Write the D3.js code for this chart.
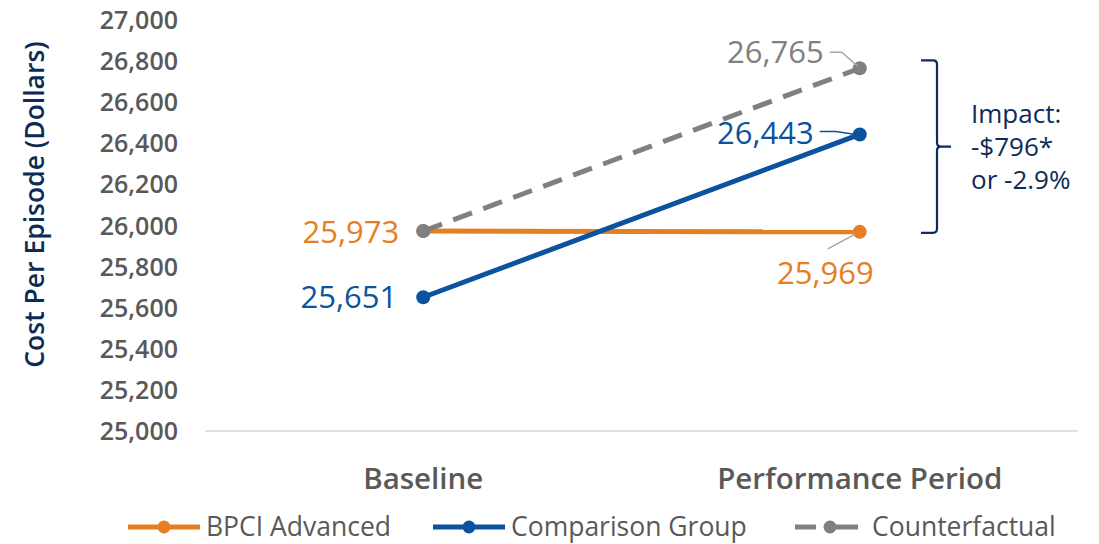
<!DOCTYPE html>
<html>
<head>
<meta charset="utf-8">
<script src="https://cdn.jsdelivr.net/npm/d3@7"></script>
<style>
  html, body { margin: 0; padding: 0; background: #fff; }
  svg { display: block; font-family: "Open Sans", "Noto Sans", sans-serif; }
</style>
</head>
<body>
<svg id="chart" width="1099" height="544"></svg>
<script>
// Episode cost data: baseline vs performance period
const categories = ["Baseline", "Performance Period"];
const bpciAdvanced = [25973, 25969];
const comparisonGroup = [25651, 26443];
const counterfactual = [25973, 26765];
const yTickValues = [25000, 25200, 25400, 25600, 25800, 26000, 26200, 26400, 26600, 26800, 27000];
const seriesNames = ["BPCI Advanced", "Comparison Group", "Counterfactual"];
const impactLines = ["Impact:", "-$796*", "or -2.9%"];

const ORANGE = "#E67E22", BLUE = "#0B539F", GRAY = "#808080", NAVY = "#0C2B57", TEXT = "#595959";

const svg = d3.select("#chart");
const x = d3.scalePoint().domain(categories).range([205, 1078]).padding(0.5);
const y = d3.scaleLinear().domain([25000, 27000]).range([431, 20]);

// y-axis tick labels
const fmt = d3.format(",");
svg.append("g").selectAll("text").data(yTickValues).join("text")
  .attr("x", 178).attr("y", d => y(d)).attr("dy", "0.36em")
  .attr("text-anchor", "end").attr("font-size", 25).attr("font-weight", 600)
  .attr("fill", TEXT).text(d => fmt(d));

// y-axis title
svg.append("text")
  .attr("transform", `translate(44,${(y(25000) + y(27000)) / 2 - 21}) rotate(-90)`)
  .attr("text-anchor", "middle").attr("font-size", 26.5).attr("font-weight", 600)
  .attr("fill", NAVY).text("Cost Per Episode (Dollars)");

// baseline axis line
svg.append("line").attr("x1", 205).attr("x2", 1078)
  .attr("y1", y(25000)).attr("y2", y(25000))
  .attr("stroke", "#d9d9d9").attr("stroke-width", 1.5);

// category labels
svg.append("g").selectAll("text").data(categories).join("text")
  .attr("x", d => x(d)).attr("y", 489).attr("text-anchor", "middle")
  .attr("font-size", 29.5).attr("font-weight", 600).attr("fill", TEXT).text(d => d);

const line = d3.line().x((d, i) => x(categories[i])).y(d => y(d));

function drawSeries(values, color, dash) {
  svg.append("path").datum(values).attr("d", line)
    .attr("fill", "none").attr("stroke", color).attr("stroke-width", 5)
    .attr("stroke-dasharray", dash || null);
  svg.append("g").selectAll("circle").data(values).join("circle")
    .attr("cx", (d, i) => x(categories[i])).attr("cy", d => y(d))
    .attr("r", 7).attr("fill", color);
}
drawSeries(bpciAdvanced, ORANGE);
drawSeries(comparisonGroup, BLUE);
drawSeries(counterfactual, GRAY, "20,12");

// data labels
const labelSize = 31;
function label(val, cx, cy, color, anchor) {
  svg.append("text").attr("x", cx).attr("y", cy).attr("dy", "0.35em")
    .attr("text-anchor", anchor).attr("font-size", labelSize)
    .attr("fill", color).text(fmt(val));
}
const xb = x(categories[0]), xp = x(categories[1]);
label(bpciAdvanced[0], xb - 24, y(bpciAdvanced[0]) + 1, ORANGE, "end");
label(comparisonGroup[0], xb - 26, y(comparisonGroup[0]), BLUE, "end");
label(comparisonGroup[1], xp - 46, y(comparisonGroup[1]) - 1, BLUE, "end");
label(counterfactual[1], xp - 36, y(counterfactual[1]) - 16, GRAY, "end");
label(bpciAdvanced[1], xp + 14, y(bpciAdvanced[1]) + 41, ORANGE, "end");

// leader lines from labels to points
const leader = (pts, color) => svg.append("path")
  .attr("d", d3.line()(pts)).attr("fill", "none")
  .attr("stroke", color).attr("stroke-width", 1.5);
leader([[xp - 30, y(counterfactual[1]) - 16], [xp - 18, y(counterfactual[1]) - 16], [xp - 2, y(counterfactual[1]) - 2]], "#a6a6a6");
leader([[xp - 40, y(comparisonGroup[1]) - 3], [xp - 24, y(comparisonGroup[1]) - 3], [xp - 4, y(comparisonGroup[1])]], BLUE);
leader([[xp - 32, y(bpciAdvanced[1]) + 17], [xp - 4, y(bpciAdvanced[1]) + 2]], "#a6a6a6");

// impact brace between counterfactual and BPCI Advanced at performance period
const bTop = y(counterfactual[1]) - 8, bBot = y(bpciAdvanced[1]) + 1, bx = 937, bMid = (bTop + bBot) / 2;
svg.append("path")
  .attr("d", `M${bx - 16},${bTop} H${bx - 4} Q${bx},${bTop} ${bx},${bTop + 4} V${bMid - 4} Q${bx},${bMid} ${bx + 4},${bMid} H${bx + 14} M${bx + 4},${bMid} Q${bx},${bMid} ${bx},${bMid + 4} V${bBot - 4} Q${bx},${bBot} ${bx - 4},${bBot} H${bx - 16}`)
  .attr("fill", "none").attr("stroke", NAVY).attr("stroke-width", 2.2);

svg.append("g").selectAll("text").data(impactLines).join("text")
  .attr("x", 971).attr("y", (d, i) => 123 + i * 33)
  .attr("font-size", 26).attr("fill", NAVY).text(d => d);

// legend
const legendColors = [ORANGE, BLUE, GRAY];
const legendX = [128, 433, 795];
const lg = svg.append("g").selectAll("g").data(seriesNames).join("g")
  .attr("transform", (d, i) => `translate(${legendX[i]},527)`);
lg.each(function (d, i) {
  const g = d3.select(this);
  if (i === 2) {
    g.append("line").attr("x1", 0).attr("x2", 21).attr("stroke", GRAY).attr("stroke-width", 5);
    g.append("line").attr("x1", 37).attr("x2", 63).attr("stroke", GRAY).attr("stroke-width", 5);
    g.append("circle").attr("cx", 35).attr("r", 6.5).attr("fill", GRAY);
  } else {
    g.append("line").attr("x1", 0).attr("x2", 72).attr("stroke", legendColors[i]).attr("stroke-width", 5);
    g.append("circle").attr("cx", 36).attr("r", 6.5).attr("fill", legendColors[i]);
  }
  g.append("text").attr("x", i === 2 ? 77 : 78).attr("dy", "0.35em")
    .attr("font-size", 26.5).attr("fill", TEXT).text(d);
});
</script>
</body>
</html>
